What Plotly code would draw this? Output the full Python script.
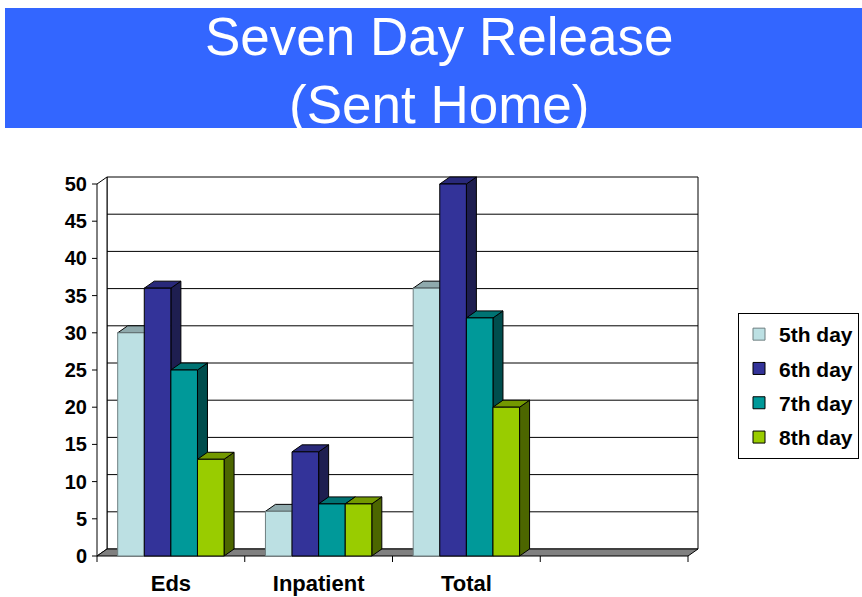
import plotly.graph_objects as go

# ---------------- data ----------------
categories = ["Eds", "Inpatient", "Total"]
series_names = ["5th day", "6th day", "7th day", "8th day"]
day5 = [30, 6, 36]
day6 = [36, 14, 50]
day7 = [25, 7, 32]
day8 = [13, 7, 20]
series_values = [day5, day6, day7, day8]
y_tick_values = [0, 5, 10, 15, 20, 25, 30, 35, 40, 45, 50]
title_lines = ["Seven Day Release", "(Sent Home)"]

# ---------------- styles ----------------
front_colors = ["#BCE0E3", "#333399", "#009999", "#99CC00"]
top_colors = ["#8FAAAD", "#29297A", "#007373", "#739900"]
side_colors = ["#7A9294", "#1E1E50", "#004D4D", "#4C6600"]
edge_colors = ["#6E7F80", "#000000", "#000000", "#000000"]
banner_color = "#3366FF"
FONT = "Liberation Sans, Arial, sans-serif"

W, H = 862, 597
n_slots = 4              # 3 categories + 1 empty slot
bargap = 0.28
y_max = 50

# pixel geometry of the front plane
front_left_px = 97
slot_px = 147.75
zero_py = 556
unit_py = 7.44
depth_px_x, depth_px_y = 10, 7

plot_left_px, plot_right_px = 88, 701
plot_top_px, plot_bottom_px = 175, 566
L, R = plot_left_px, W - plot_right_px
T, B = plot_top_px, H - plot_bottom_px
plot_w = plot_right_px - plot_left_px
plot_h = plot_bottom_px - plot_top_px

x_lo = -0.5 - (front_left_px - plot_left_px) / slot_px
x_hi = -0.5 + (plot_right_px - front_left_px) / slot_px
y_lo = -(plot_bottom_px - zero_py) / unit_py
y_hi = (zero_py - plot_top_px) / unit_py
dxu = depth_px_x / slot_px
dyu = depth_px_y / unit_py
tick_len_x = 6 / unit_py
tick_len_y = 5 / slot_px


def px2x(px):
    return (px - plot_left_px) / plot_w


def py2y(py):
    return (plot_bottom_px - py) / plot_h


fig = go.Figure()

bar_w = (1 - bargap) / len(series_names)
for j, (name, vals) in enumerate(zip(series_names, series_values)):
    fig.add_trace(go.Bar(
        x=list(range(len(categories))), y=vals, name=name,
        marker=dict(color=front_colors[j], line=dict(color=edge_colors[j], width=1)),
        legendgroup=name, hoverinfo="skip",
    ))

shapes = []
x_a, x_b = -0.5, n_slots - 0.5
# back wall
shapes.append(dict(type="rect", xref="x", yref="y", layer="below",
                   x0=x_a + dxu, x1=x_b + dxu, y0=dyu, y1=y_max + dyu,
                   fillcolor="white", line=dict(color="black", width=1)))
for v in y_tick_values[1:-1]:
    shapes.append(dict(type="line", xref="x", yref="y", layer="below",
                       x0=x_a + dxu, x1=x_b + dxu, y0=v + dyu, y1=v + dyu,
                       line=dict(color="black", width=1)))
# left wall
shapes.append(dict(type="path", xref="x", yref="y", layer="below",
                   path=f"M{x_a},0 L{x_a+dxu},{dyu} L{x_a+dxu},{y_max+dyu} L{x_a},{y_max} Z",
                   fillcolor="white", line=dict(color="black", width=1)))
# floor
shapes.append(dict(type="path", xref="x", yref="y", layer="below",
                   path=f"M{x_a},0 L{x_b},0 L{x_b+dxu},{dyu} L{x_a+dxu},{dyu} Z",
                   fillcolor="#808080", line=dict(color="black", width=1)))
# axis ticks
for v in y_tick_values:
    shapes.append(dict(type="line", xref="x", yref="y", layer="below",
                       x0=x_a - tick_len_y, x1=x_a, y0=v, y1=v,
                       line=dict(color="black", width=1)))
for k in range(n_slots + 1):
    b = x_a + k
    shapes.append(dict(type="line", xref="x", yref="y", layer="below",
                       x0=b, x1=b, y0=0, y1=-tick_len_x,
                       line=dict(color="black", width=1)))
# 3D side and top faces of the bars
for i in range(len(categories)):
    for j, vals in enumerate(series_values):
        v = vals[i]
        xl = i - (1 - bargap) / 2 + j * bar_w
        xr = xl + bar_w
        shapes.append(dict(type="path", xref="x", yref="y", layer="below",
                           path=f"M{xr},0 L{xr+dxu},{dyu} L{xr+dxu},{v+dyu} L{xr},{v} Z",
                           fillcolor=side_colors[j], line=dict(color="black", width=1)))
        shapes.append(dict(type="path", xref="x", yref="y", layer="below",
                           path=f"M{xl},{v} L{xl+dxu},{v+dyu} L{xr+dxu},{v+dyu} L{xr},{v} Z",
                           fillcolor=top_colors[j], line=dict(color="black", width=1)))
# title banner
shapes.append(dict(type="rect", xref="paper", yref="paper", layer="below",
                   x0=px2x(5), x1=px2x(W + 2), y0=py2y(128), y1=py2y(8),
                   fillcolor=banner_color, line=dict(width=0)))

annotations = []
for line_text, cy in zip(title_lines, [37, 104]):
    annotations.append(dict(text=line_text, xref="paper", yref="paper",
                            x=px2x(439), y=py2y(cy), xanchor="center", yanchor="middle",
                            showarrow=False, font=dict(family=FONT, size=53, color="white")))

fig.update_layout(
    width=W, height=H,
    margin=dict(l=L, r=R, t=T, b=B, pad=0, autoexpand=False),
    paper_bgcolor="white", plot_bgcolor="white",
    barmode="group", bargap=bargap, bargroupgap=0,
    shapes=shapes, annotations=annotations,
    showlegend=True,
    legend=dict(x=px2x(738), y=py2y(313), xanchor="left", yanchor="top",
                bordercolor="black", borderwidth=1, bgcolor="white",
                font=dict(family=FONT, size=21, color="black", weight="bold"),
                tracegroupgap=4, traceorder="grouped"),
    xaxis=dict(range=[x_lo, x_hi], tickmode="array",
               tickvals=list(range(len(categories))), ticktext=categories,
               ticks="", showgrid=False, zeroline=False, showline=False,
               ticklabelstandoff=2,
               tickfont=dict(family=FONT, size=22, color="black", weight="bold")),
    yaxis=dict(range=[y_lo, y_hi], tickmode="array", tickvals=y_tick_values,
               ticks="", showgrid=False, zeroline=False, showline=False,
               tickfont=dict(family=FONT, size=20, color="black", weight="bold")),
)

fig.write_html("out.html")
